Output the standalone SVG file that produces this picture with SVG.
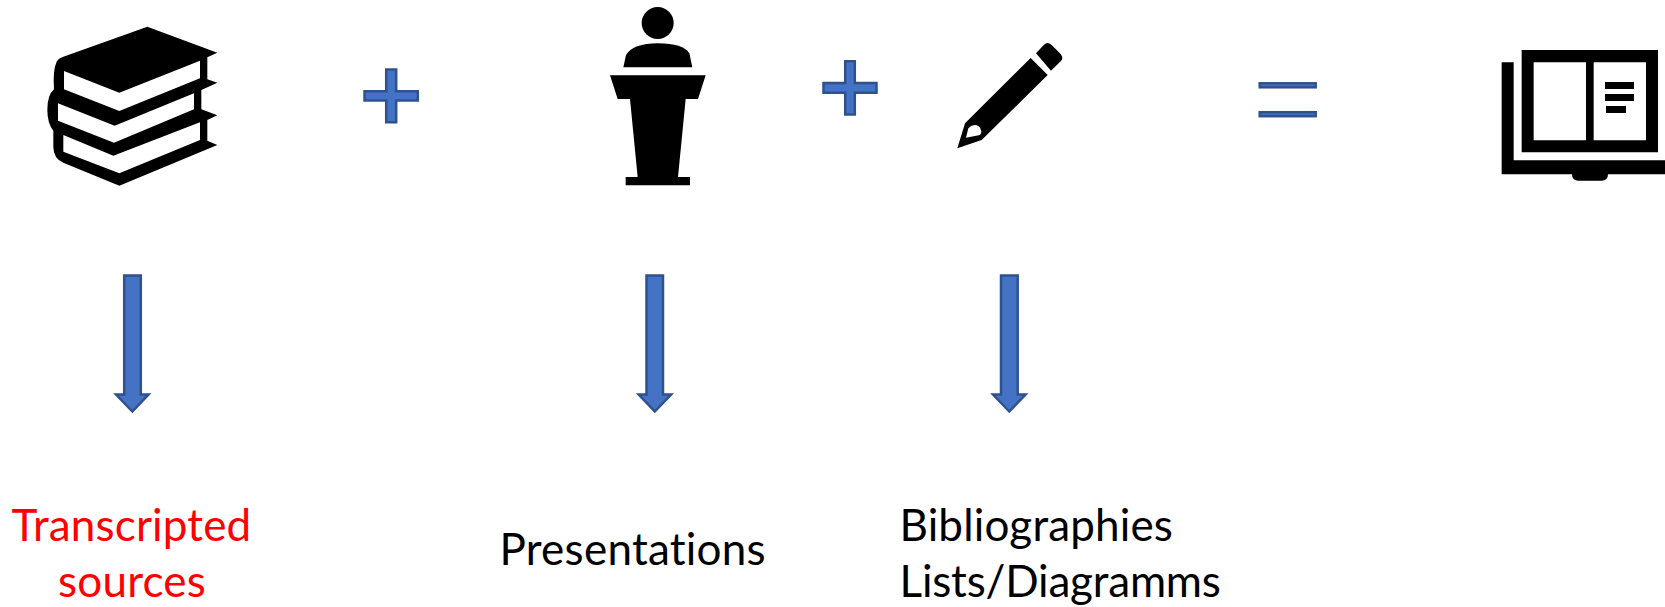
<svg xmlns="http://www.w3.org/2000/svg" width="1665" height="607" viewBox="0 0 1665 607">
<style>
.sym{fill:#4472C4;stroke:#2F528F;stroke-width:2.5}
.k{fill:#000}
.w{fill:#fff}
text{font-family:"Lato","Open Sans",sans-serif;font-size:44px;fill:#000;font-variant-ligatures:none}
</style>
<rect width="1665" height="607" fill="#fff"/>
<g id="books" transform="translate(30 10) scale(.33333)">
<path class="k" d="M352,50 L562,128 L532,142 L532,208 L562,218 L514,240 L514,298 L562,316 L532,330 L532,392 L562,405 L268,527 L100,458 Q70,445 70,410 L70,362 Q52,340 52,300 Q52,255 72,238 Q68,180 80,155 Q85,145 100,140 Z"/>
<path class="w" d="M102,183 L268,248 L510,152 L510,205 L268,303 L102,238 Z"/>
<path class="w" d="M84,280 L254,347 L492,250 L492,298 L252,398 L84,332 Z"/>
<path class="w" d="M100,375 L250,437 L510,337 L510,390 L268,490 L100,425 Z"/>
</g>
<g id="plus1"><path class="sym" d="M386.2,69.5H396.2V91.2H417.8V100.6H396.2V122.2H386.2V100.6H364.5V91.2H386.2Z"/></g>
<g id="podium" transform="translate(590 0) scale(.33333)">
<circle class="k" cx="203" cy="69" r="48"/>
<path class="k" d="M100,202 L108,165 Q130,130 203,130 Q280,130 298,160 L307,202 Z"/>
<path class="k" d="M60,226 L347,226 L324,297 L287,297 L264,531 L300,531 L300,556 L107,556 L107,531 L143,531 L120,297 L83,297 Z"/>
</g>
<g id="plus2"><path class="sym" d="M845.2,61.2H854.8V82.9H876.5V92.8H854.8V114.5H845.2V92.8H823.5V82.9H845.2Z"/></g>
<g id="pen" transform="translate(590 0) scale(.33333)">
<path class="k" d="M1338,160 L1362,134 Q1372,124 1384,134 L1412,162 Q1422,174 1412,184 L1383,212 Z"/>
<path class="k" fill-rule="evenodd" d="M1322,174 L1373,225 L1175,420 L1102,445 L1125,370 Z M1128,413 L1135,385 Q1150,370 1165,378 Q1180,390 1170,405 Z"/>
</g>
<g id="equals">
<rect class="sym" x="1259.7" y="83.3" width="56" height="4" stroke-width="2"/>
<rect class="sym" x="1259.7" y="112.2" width="56" height="4" stroke-width="2"/>
</g>
<g id="open-book" transform="translate(1240 30) scale(.33333)">
<path class="k" fill-rule="evenodd" d="M845,60H1254V367H845Z M881,97V331H1038V97Z M1061,97V331H1218V97Z"/>
<path class="k" d="M1095,156H1182V177H1095Z M1095,192H1182V213H1095Z M1098,228H1158V249H1098Z"/>
<path class="k" d="M785,97H821V391H1275V433H1104Q1104,452 1085,452H1015Q996,452 996,433H785Z"/>
</g>
<g id="connectors">
<path class="sym" d="M124.2,275.5H140.8V394.5H148.6L132.4,411.5L116,394.5H124.2Z"/>
<path class="sym" d="M646.5,275.5H663V394.5H671.2L654.8,411.5L638.6,394.5H646.5Z"/>
<path class="sym" d="M1001,275.5H1017.7V394.5H1025.6L1009.3,411.5L993,394.5H1001Z"/>
</g>
<g id="label-sources">
<text x="131.5" y="541" text-anchor="middle" letter-spacing=".17" style="fill:#FF0000">Transcripted</text>
<text x="132" y="597" text-anchor="middle" letter-spacing=".2" style="fill:#FF0000">sources</text>
</g>
<g id="label-presentations"><text x="499.5" y="565" letter-spacing=".25">Presentations</text></g>
<g id="label-bibliographies">
<text x="899.5" y="541" letter-spacing=".15">Bibliographies</text>
<text x="899.5" y="597" letter-spacing="-.2">Lists/Diagramms</text>
</g>
</svg>
